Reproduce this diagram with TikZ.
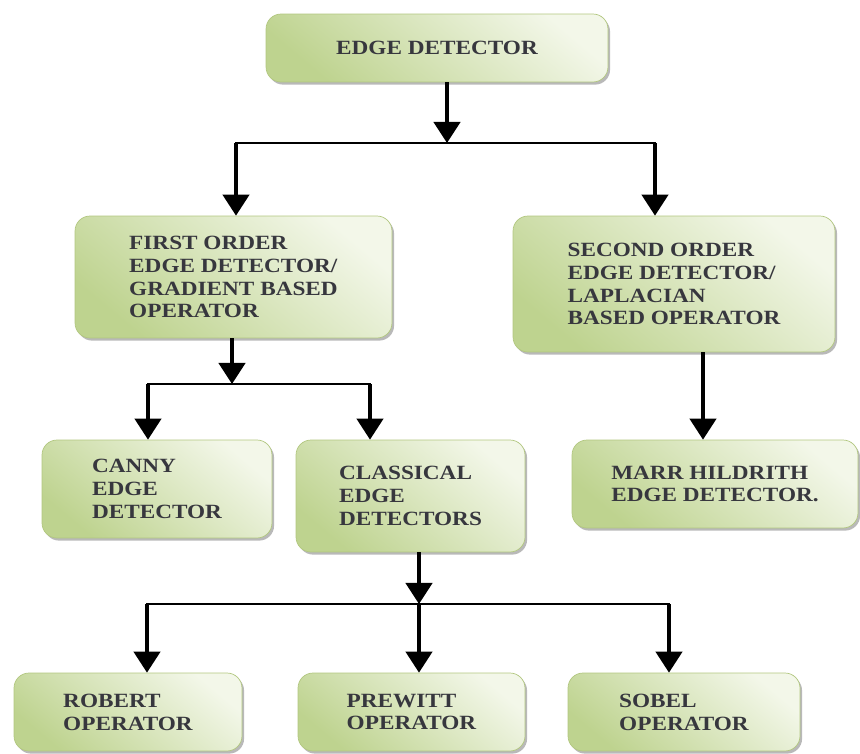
\documentclass[tikz,border=0pt]{standalone}
\usepackage{fontspec}
\setmainfont[FakeStretch=1.15]{Liberation Serif}
\usetikzlibrary{arrows.meta,shadows}
\definecolor{boxdark}{RGB}{190,211,143}
\definecolor{boxlight}{RGB}{243,247,233}
\definecolor{boxedge}{RGB}{178,199,128}
\definecolor{txt}{RGB}{55,55,62}

\begin{document}
\begin{tikzpicture}[x=0.02cm, y=-0.02cm,
        box/.style={rectangle, rounded corners=0.3cm, draw=boxedge, line width=0.4pt,
            bottom color=boxdark, top color=boxlight, shading angle=-40,
            drop shadow={shadow xshift=1.2pt, shadow yshift=-1.5pt, opacity=0.55},
            align=left, text=txt, inner sep=0pt,
            font=\fontsize{11.5}{13}\selectfont\bfseries},
        arr/.style={-{Triangle[width=15pt,length=12pt]}, line width=2pt},
        bar/.style={line width=1.6pt, line cap=rect}]
\useasboundingbox (0,0) rectangle (860,754);

% boxes
\node[box, minimum width=6.84cm, minimum height=1.36cm] (edge) at (437,48) {EDGE DETECTOR};
\node[box, minimum width=6.34cm, minimum height=2.44cm] (first) at (233.5,277)
    {FIRST ORDER\\EDGE DETECTOR/\\GRADIENT BASED\\OPERATOR};
\node[box, minimum width=6.44cm, minimum height=2.72cm] (second) at (674,284)
    {SECOND ORDER\\EDGE DETECTOR/\\LAPLACIAN\\BASED OPERATOR};
\node[box, minimum width=4.6cm, minimum height=1.96cm] (canny) at (157,489) {CANNY\\EDGE\\DETECTOR};
\node[box, minimum width=4.58cm, minimum height=2.24cm] (classical) at (410.5,496) {CLASSICAL\\EDGE\\DETECTORS};
\node[box, minimum width=5.72cm, minimum height=1.76cm] (marr) at (715,484) {MARR HILDRITH\\EDGE DETECTOR.};
\node[box, minimum width=4.56cm, minimum height=1.56cm] (robert) at (128,712) {ROBERT\\OPERATOR};
\node[box, minimum width=4.54cm, minimum height=1.56cm] (prewitt) at (411.5,712) {PREWITT\\OPERATOR};
\node[box, minimum width=4.64cm, minimum height=1.56cm] (sobel) at (684,712) {SOBEL\\OPERATOR};

% junctions
\coordinate (s1) at (447,143);
\coordinate (s1l) at (236,143);
\coordinate (s1r) at (655,143);
\coordinate (s2) at (232,384);
\coordinate (s2l) at (148,384);
\coordinate (s2r) at (370,384);
\coordinate (s3) at (703,352);
\coordinate (s4) at (419,604);
\coordinate (s4l) at (147,604);
\coordinate (s4r) at (669,604);

\draw[arr] (edge.south -| s1) -- (s1);
\draw[bar] (s1l) -- (s1r);
\draw[arr] (s1l) -- (s1l |- first.north);
\draw[arr] (s1r) -- (s1r |- second.north);

\draw[arr] (first.south -| s2) -- (s2);
\draw[bar] (s2l) -- (s2r);
\draw[arr] (s2l) -- (s2l |- canny.north);
\draw[arr] (s2r) -- (s2r |- classical.north);

\draw[arr] (s3) -- (s3 |- marr.north);

\draw[arr] (classical.south -| s4) -- (s4);
\draw[bar] (s4l) -- (s4r);
\draw[arr] (s4l) -- (s4l |- robert.north);
\draw[arr] (s4) -- (s4 |- prewitt.north);
\draw[arr] (s4r) -- (s4r |- sobel.north);
\end{tikzpicture}
\end{document}
